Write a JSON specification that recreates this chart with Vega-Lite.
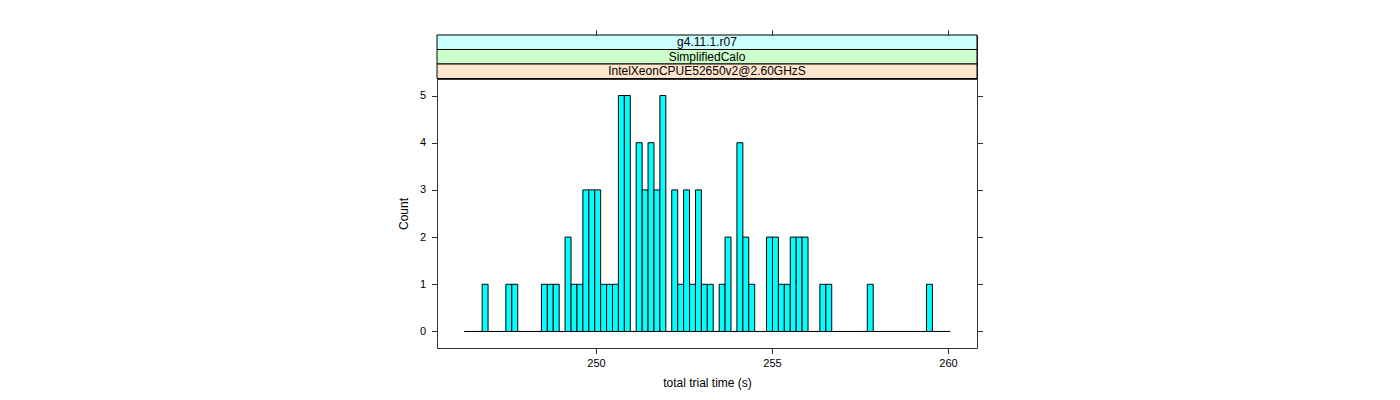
{
  "$schema": "https://vega.github.io/schema/vega-lite/v6.json",
  "padding": {"left": 396, "top": 29, "right": 5, "bottom": 5},
  "background": "white",
  "config": {
    "font": "Liberation Sans",
    "view": {"stroke": "#333", "strokeWidth": 1},
    "axis": {"domain": false, "grid": false, "tickColor": "#333", "tickSize": 5.5, "labelColor": "#000", "labelFontSize": 11, "labelFont": "Liberation Sans", "titleFont": "Liberation Sans", "titleFontSize": 12, "titleFontWeight": "normal", "titleColor": "#000"}
  },
  "bounds": "flush",
  "spacing": 0,
  "vconcat": [
    {
      "width": 540,
      "height": 43.5,
      "data": {"values": [
        {"label": "g4.11.1.r07"},
        {"label": "SimplifiedCalo"},
        {"label": "IntelXeonCPUE52650v2@2.60GHzS"}
      ]},
      "layer": [
        {
          "mark": {"type": "rect", "stroke": "#000", "strokeWidth": 1},
          "encoding": {
            "y": {"field": "label", "type": "nominal", "sort": null, "axis": null, "scale": {"paddingInner": 0, "paddingOuter": 0}},
            "fill": {"field": "label", "type": "nominal", "legend": null, "scale": {"domain": ["g4.11.1.r07", "SimplifiedCalo", "IntelXeonCPUE52650v2@2.60GHzS"], "range": ["#ccffff", "#ccffcc", "#ffe5cc"]}}
          }
        },
        {
          "mark": {"type": "text", "fontSize": 12, "font": "Liberation Sans", "color": "#000"},
          "encoding": {
            "y": {"field": "label", "type": "nominal", "sort": null, "axis": null},
            "text": {"field": "label", "type": "nominal"}
          }
        }
      ]
    },
    {
      "width": 540,
      "height": 269,
      "data": {"values": [
        {"lo": 246.261, "hi": 246.429, "n": 0},
        {"lo": 246.429, "hi": 246.598, "n": 0},
        {"lo": 246.598, "hi": 246.766, "n": 0},
        {"lo": 246.766, "hi": 246.934, "n": 1},
        {"lo": 246.934, "hi": 247.103, "n": 0},
        {"lo": 247.103, "hi": 247.271, "n": 0},
        {"lo": 247.271, "hi": 247.439, "n": 0},
        {"lo": 247.439, "hi": 247.608, "n": 1},
        {"lo": 247.608, "hi": 247.776, "n": 1},
        {"lo": 247.776, "hi": 247.944, "n": 0},
        {"lo": 247.944, "hi": 248.113, "n": 0},
        {"lo": 248.113, "hi": 248.281, "n": 0},
        {"lo": 248.281, "hi": 248.449, "n": 0},
        {"lo": 248.449, "hi": 248.618, "n": 1},
        {"lo": 248.618, "hi": 248.786, "n": 1},
        {"lo": 248.786, "hi": 248.954, "n": 1},
        {"lo": 248.954, "hi": 249.122, "n": 0},
        {"lo": 249.122, "hi": 249.291, "n": 2},
        {"lo": 249.291, "hi": 249.459, "n": 1},
        {"lo": 249.459, "hi": 249.627, "n": 1},
        {"lo": 249.627, "hi": 249.796, "n": 3},
        {"lo": 249.796, "hi": 249.964, "n": 3},
        {"lo": 249.964, "hi": 250.132, "n": 3},
        {"lo": 250.132, "hi": 250.301, "n": 1},
        {"lo": 250.301, "hi": 250.469, "n": 1},
        {"lo": 250.469, "hi": 250.637, "n": 1},
        {"lo": 250.637, "hi": 250.806, "n": 5},
        {"lo": 250.806, "hi": 250.974, "n": 5},
        {"lo": 250.974, "hi": 251.142, "n": 0},
        {"lo": 251.142, "hi": 251.311, "n": 4},
        {"lo": 251.311, "hi": 251.479, "n": 3},
        {"lo": 251.479, "hi": 251.647, "n": 4},
        {"lo": 251.647, "hi": 251.816, "n": 3},
        {"lo": 251.816, "hi": 251.984, "n": 5},
        {"lo": 251.984, "hi": 252.152, "n": 0},
        {"lo": 252.152, "hi": 252.321, "n": 3},
        {"lo": 252.321, "hi": 252.489, "n": 1},
        {"lo": 252.489, "hi": 252.657, "n": 3},
        {"lo": 252.657, "hi": 252.826, "n": 1},
        {"lo": 252.826, "hi": 252.994, "n": 3},
        {"lo": 252.994, "hi": 253.162, "n": 1},
        {"lo": 253.162, "hi": 253.330, "n": 1},
        {"lo": 253.330, "hi": 253.499, "n": 0},
        {"lo": 253.499, "hi": 253.667, "n": 1},
        {"lo": 253.667, "hi": 253.835, "n": 2},
        {"lo": 253.835, "hi": 254.004, "n": 0},
        {"lo": 254.004, "hi": 254.172, "n": 4},
        {"lo": 254.172, "hi": 254.340, "n": 2},
        {"lo": 254.340, "hi": 254.509, "n": 1},
        {"lo": 254.509, "hi": 254.677, "n": 0},
        {"lo": 254.677, "hi": 254.845, "n": 0},
        {"lo": 254.845, "hi": 255.014, "n": 2},
        {"lo": 255.014, "hi": 255.182, "n": 2},
        {"lo": 255.182, "hi": 255.350, "n": 1},
        {"lo": 255.350, "hi": 255.519, "n": 1},
        {"lo": 255.519, "hi": 255.687, "n": 2},
        {"lo": 255.687, "hi": 255.855, "n": 2},
        {"lo": 255.855, "hi": 256.024, "n": 2},
        {"lo": 256.024, "hi": 256.192, "n": 0},
        {"lo": 256.192, "hi": 256.360, "n": 0},
        {"lo": 256.360, "hi": 256.529, "n": 1},
        {"lo": 256.529, "hi": 256.697, "n": 1},
        {"lo": 256.697, "hi": 256.865, "n": 0},
        {"lo": 256.865, "hi": 257.034, "n": 0},
        {"lo": 257.034, "hi": 257.202, "n": 0},
        {"lo": 257.202, "hi": 257.370, "n": 0},
        {"lo": 257.370, "hi": 257.538, "n": 0},
        {"lo": 257.538, "hi": 257.707, "n": 0},
        {"lo": 257.707, "hi": 257.875, "n": 1},
        {"lo": 257.875, "hi": 258.043, "n": 0},
        {"lo": 258.043, "hi": 258.212, "n": 0},
        {"lo": 258.212, "hi": 258.380, "n": 0},
        {"lo": 258.380, "hi": 258.548, "n": 0},
        {"lo": 258.548, "hi": 258.717, "n": 0},
        {"lo": 258.717, "hi": 258.885, "n": 0},
        {"lo": 258.885, "hi": 259.053, "n": 0},
        {"lo": 259.053, "hi": 259.222, "n": 0},
        {"lo": 259.222, "hi": 259.390, "n": 0},
        {"lo": 259.390, "hi": 259.558, "n": 1},
        {"lo": 259.558, "hi": 259.727, "n": 0},
        {"lo": 259.727, "hi": 259.895, "n": 0},
        {"lo": 259.895, "hi": 260.063, "n": 0}
      ]},
      "layer": [
        {
          "mark": {"type": "rect", "fill": "#00ffff", "stroke": "#000", "strokeWidth": 1},
          "encoding": {
            "x": {"field": "lo", "type": "quantitative", "scale": {"domain": [245.483, 260.824], "nice": false, "zero": false},
                  "axis": {"orient": "bottom", "values": [250, 255, 260], "labelPadding": 4, "title": "total trial time (s)", "titlePadding": 9}},
            "x2": {"field": "hi"},
            "y": {"field": "n", "type": "quantitative", "scale": {"domain": [-0.35, 5.35], "nice": false, "zero": false},
                  "axis": {"orient": "left", "values": [0, 1, 2, 3, 4, 5], "labelPadding": 6, "title": "Count", "titlePadding": 9}},
            "y2": {"datum": 0}
          }
        },
        {
          "mark": {"type": "rect", "opacity": 0},
          "encoding": {
            "x": {"field": "lo", "type": "quantitative",
                  "axis": {"orient": "top", "values": [250, 255, 260], "labels": false, "title": null, "offset": 43.5}},
            "x2": {"field": "hi"},
            "y": {"field": "n", "type": "quantitative",
                  "axis": {"orient": "right", "values": [0, 1, 2, 3, 4, 5], "labels": false, "title": null}},
            "y2": {"datum": 0}
          }
        }
      ],
      "resolve": {"axis": {"x": "independent", "y": "independent"}}
    }
  ]
}
